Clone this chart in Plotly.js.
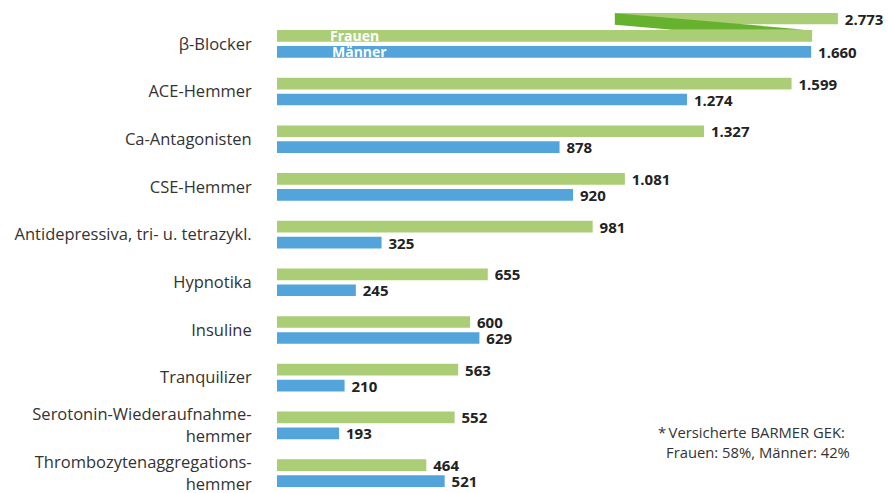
<!DOCTYPE html>
<html>
<head>
<meta charset="utf-8">
<script src="https://cdn.plot.ly/plotly-3.0.1.min.js"></script>
<style>
  html, body { margin: 0; padding: 0; background: #fff; }
  #chart { width: 888px; height: 493px; }
</style>
</head>
<body>
<div id="chart"></div>
<script>
const categories = [
  'β-Blocker',
  'ACE-Hemmer',
  'Ca-Antagonisten',
  'CSE-Hemmer',
  'Antidepressiva, tri- u. tetrazykl.',
  'Hypnotika',
  'Insuline',
  'Tranquilizer',
  'Serotonin-Wiederaufnahme-<br>hemmer',
  'Thrombozytenaggregations-<br>hemmer'
];
const frauen = [2773, 1599, 1327, 1081, 981, 655, 600, 563, 552, 464];
const maenner = [1660, 1274, 878, 920, 325, 245, 629, 210, 193, 521];

// Achsenbruch für den β-Blocker-Balken (Frauen)
const breakCap = 1663;      // bis hierhin wird der untere Balken gezeichnet
const breakFrom = 1050;     // oberes Reststück: Beginn
const breakTo = 1743;       // oberes Reststück: Ende

const green = '#aacd76';
const darkGreen = '#66b22e';
const blue = '#52a4da';

// deutsche Tausenderpunkte
function fmt(v) {
  return String(v).replace(/\B(?=(\d{3})+(?!\d))/g, '.');
}

const nb = '\u00a0';
const valueFont = { family: 'Open Sans, sans-serif', size: 15, color: '#222', weight: 700 };

const frauenShown = frauen.map(v => Math.min(v, breakCap));
const frauenText = frauen.map(v => v > breakCap ? '' : nb + '<b>' + fmt(v) + '</b>');
const maennerText = maenner.map(v => nb + '<b>' + fmt(v) + '</b>');

const traceF = {
  type: 'bar',
  orientation: 'h',
  name: 'Frauen',
  y: categories,
  x: frauenShown,
  marker: { color: green },
  width: 0.245,
  offset: -0.289,
  text: frauenText,
  textposition: 'outside',
  textfont: valueFont,
  constraintext: 'none',
  cliponaxis: false,
  hoverinfo: 'skip'
};

const traceM = {
  type: 'bar',
  orientation: 'h',
  name: 'Männer',
  y: categories,
  x: maenner,
  marker: { color: blue },
  width: 0.245,
  offset: 0.046,
  text: maennerText,
  textposition: 'outside',
  textfont: valueFont,
  constraintext: 'none',
  cliponaxis: false,
  hoverinfo: 'skip'
};

// Reststück des gebrochenen Balkens
const traceBreak = {
  type: 'bar',
  orientation: 'h',
  y: [categories[0]],
  x: [breakTo - breakFrom],
  base: [breakFrom],
  marker: { color: green },
  width: 0.235,
  offset: -0.646,
  text: [nb + '<b>' + fmt(frauen[0]) + '</b>'],
  textposition: 'outside',
  textfont: valueFont,
  constraintext: 'none',
  cliponaxis: false,
  hoverinfo: 'skip'
};

const layout = {
  width: 888,
  height: 493,
  margin: { l: 277, r: 0, t: 0, b: 0 },
  paper_bgcolor: '#fff',
  plot_bgcolor: '#fff',
  showlegend: false,
  barmode: 'overlay',
  font: { family: 'Open Sans, sans-serif', color: '#333' },
  xaxis: {
    range: [0, 1898.7],
    visible: false,
    fixedrange: true
  },
  yaxis: {
    type: 'category',
    range: [9.419, -0.918],
    showgrid: false,
    zeroline: false,
    showline: false,
    ticks: 'outside',
    ticklen: 21,
    tickcolor: 'rgba(0,0,0,0)',
    tickfont: { family: 'Open Sans, sans-serif', size: 16.5, color: '#333' },
    fixedrange: true
  },
  shapes: [
    {
      type: 'path',
      xref: 'x',
      yref: 'y',
      path: 'M ' + breakFrom + ',-0.640 L 1642,-0.296 L 1229,-0.296 L ' + breakFrom + ',-0.400 Z',
      fillcolor: darkGreen,
      line: { width: 0 },
      layer: 'above'
    }
  ],
  annotations: [
    {
      x: 160, y: -0.166, xref: 'x', yref: 'y',
      text: '<b>Frauen</b>', showarrow: false, xanchor: 'left', yanchor: 'middle',
      font: { family: 'Open Sans, sans-serif', size: 14, color: '#fff' }
    },
    {
      x: 164, y: 0.168, xref: 'x', yref: 'y',
      text: '<b>Männer</b>', showarrow: false, xanchor: 'left', yanchor: 'middle',
      font: { family: 'Open Sans, sans-serif', size: 14, color: '#fff' }
    },
    {
      x: 656, y: 432, xref: 'paper', yref: 'paper',
      text: '*\u2009Versicherte BARMER GEK:', showarrow: false, xanchor: 'left', yanchor: 'middle',
      font: { family: 'Open Sans, sans-serif', size: 14.8, color: '#333' }
    },
    {
      x: 664, y: 452, xref: 'paper', yref: 'paper',
      text: 'Frauen: 58%, Männer: 42%', showarrow: false, xanchor: 'left', yanchor: 'middle',
      font: { family: 'Open Sans, sans-serif', size: 14.8, color: '#333' }
    }
  ]
};

// Fußnote in Pixeln -> Papierkoordinaten
layout.annotations.slice(2).forEach(a => {
  a.x = (a.x - layout.margin.l) / (888 - layout.margin.l - layout.margin.r);
  a.y = 1 - a.y / 493;
});

Plotly.newPlot('chart', [traceF, traceM, traceBreak], layout, { displayModeBar: false, staticPlot: true });
</script>
</body>
</html>
